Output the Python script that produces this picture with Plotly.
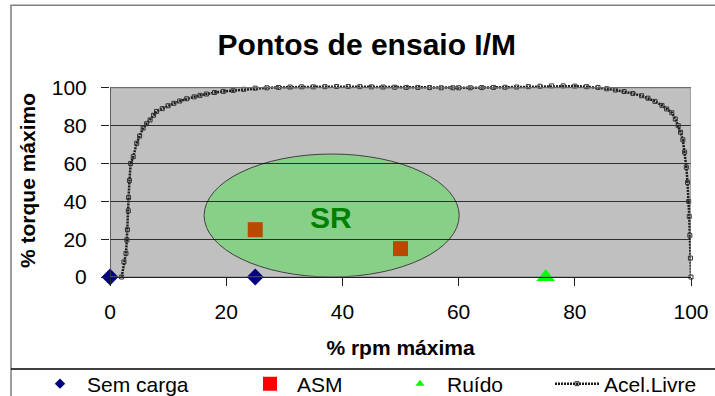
import plotly.graph_objects as go

# --- data -------------------------------------------------------------
sem_carga_x = [0, 25]
sem_carga_y = [0, 0]

asm_x = [25, 50]
asm_y = [25, 15]

ruido_x = [75]
ruido_y = [0]

acel_x = [2.0, 2.4, 2.75, 2.9, 3.0, 3.15, 3.2, 3.35, 3.55, 4.0, 4.6, 5.1, 5.7, 6.3,
          6.9, 7.5, 8.0, 9.0, 10.0, 11.0, 12.0, 13.2, 14.5, 15.5, 16.6, 18.0, 19.5,
          21.2, 23.0, 25.0, 27.0, 29.0, 31.0, 33.0, 35.0, 37.0, 39.0, 41.0, 43.0,
          45.0, 47.0, 49.0, 51.0, 53.0, 55.0, 57.0, 59.0, 60.0, 62.0, 64.0, 66.0,
          68.0, 70.0, 72.0, 74.0, 76.0, 78.0, 80.0, 82.0, 84.0, 85.5, 87.0, 88.5,
          90.0, 91.5, 92.6, 93.8, 95.0, 95.8, 96.7, 97.3, 97.8, 98.2, 98.6, 98.9,
          99.2, 99.4, 99.6, 99.7, 99.8, 99.9, 100.0]
acel_y = [0, 8, 12.5, 19.6, 25, 35, 42, 51, 60, 63.6, 70.7, 74.5, 78.7, 81,
          83, 85.5, 87.5, 89, 90.5, 91.8, 93, 94.2, 95.2, 96, 96.7, 97.5, 98.1,
          98.6, 99.2, 99.8, 100, 100.2, 100.4, 100.5, 100.5, 100.6, 100.7, 100.7, 100.6,
          100.5, 100.4, 100.3, 100.2, 100.2, 100.1, 100.0, 100.0, 100.0, 100.0, 100.1, 100.2,
          100.3, 100.4, 100.6, 100.8, 101.0, 101.0, 100.9, 100.6, 100.2, 99.5, 98.8, 98.0,
          97.0, 95.8, 94.5, 92.8, 90.7, 88.8, 86.8, 83.5, 80.0, 76.5, 72.5, 66,
          58, 50, 40, 32, 22, 10, 0]

# SR region (ellipse bounds in axis units)
sr_x = [16.2, 60.1]
sr_y = [0, 65]
sr_label_pos = (38, 31.5)

x_ticks = [0, 20, 40, 60, 80, 100]
y_ticks = [0, 20, 40, 60, 80, 100]

FONT = "Arial, Liberation Sans, sans-serif"
W, H = 715, 396

fig = go.Figure()

# Acel.Livre curve: chain-like dashed stroke with small open squares
fig.add_trace(go.Scatter(
    x=acel_x, y=acel_y, mode="lines+markers", name="Acel.Livre",
    line=dict(color="#1a1a1a", width=2.5, dash="2px,1px"),
    marker=dict(symbol="square-open", size=4, color="#333333", line=dict(width=1)),
    cliponaxis=False, legend="legend4",
))

# Sem carga
fig.add_trace(go.Scatter(
    x=sem_carga_x, y=sem_carga_y, mode="markers", name="Sem carga",
    marker=dict(symbol="diamond", size=13, color="#000080"),
    cliponaxis=False, showlegend=False,
))
fig.add_trace(go.Scatter(
    x=[None], y=[None], mode="markers", name="Sem carga",
    marker=dict(symbol="diamond", size=8, color="#000080"), legend="legend",
))

# ASM
fig.add_trace(go.Scatter(
    x=asm_x, y=asm_y, mode="markers", name="ASM",
    marker=dict(symbol="square", size=15, color="#B84A00"),
    cliponaxis=False, showlegend=False,
))
fig.add_trace(go.Scatter(
    x=[None], y=[None], mode="markers", name="ASM",
    marker=dict(symbol="square", size=14, color="#FF0000"), legend="legend2",
))

# Ruído
fig.add_trace(go.Scatter(
    x=ruido_x, y=ruido_y, mode="markers", name="Ruído",
    marker=dict(symbol="triangle-up", size=16, color="#00FF00"),
    cliponaxis=False, showlegend=False,
))
fig.add_trace(go.Scatter(
    x=[None], y=[None], mode="markers", name="Ruído",
    marker=dict(symbol="triangle-up", size=8, color="#00FF00"), legend="legend3",
))

# grey plotting area 0..100 x 0..100 (axis range leaves headroom for the curve)
fig.add_shape(type="rect", xref="x", yref="y", x0=0, x1=100, y0=0, y1=100,
              fillcolor="#C0C0C0", line=dict(width=0), layer="below")

# SR ellipse and label
fig.add_shape(type="circle", xref="x", yref="y",
              x0=sr_x[0], x1=sr_x[1], y0=sr_y[0], y1=sr_y[1],
              fillcolor="#88D088", line=dict(color="#404040", width=1), layer="below")
fig.add_annotation(x=sr_label_pos[0], y=sr_label_pos[1], xref="x", yref="y",
                   text="<b>SR</b>", showarrow=False,
                   font=dict(family=FONT, size=30, color="#008000"))

# plot-area frame: grey top/right, dark left axis
fig.add_shape(type="rect", xref="x", yref="y", x0=0, x1=100, y0=0, y1=100,
              line=dict(color="#808080", width=1), layer="above")
fig.add_shape(type="line", xref="x", yref="y", x0=0, x1=0, y0=0, y1=100,
              line=dict(color="#202020", width=1), layer="above")

# outer chart border and legend separator
fig.add_shape(type="rect", xref="paper", yref="paper",
              x0=(11 - 110) / 581, x1=(720 - 110) / 581,
              y0=(277 - 420) / 189, y1=(277 - 11) / 189,
              line=dict(color="#808080", width=1.5))
fig.add_shape(type="line", xref="paper", yref="paper",
              x0=(11 - 110) / 581, x1=(720 - 110) / 581,
              y0=(277 - 367) / 189, y1=(277 - 367) / 189,
              line=dict(color="#000000", width=1.5))

legend_common = dict(orientation="h", xref="container", yref="container",
                     yanchor="middle", y=1 - 384 / H, itemwidth=44,
                     xanchor="left", bgcolor="rgba(0,0,0,0)", borderwidth=0,
                     font=dict(family=FONT, size=21, color="black"))

fig.update_layout(
    width=W, height=H,
    margin=dict(l=110, r=24, t=84, b=119, autoexpand=False),
    paper_bgcolor="white", plot_bgcolor="white",
    title=dict(text="<b>Pontos de ensaio I/M</b>", x=0.513, xanchor="center",
               y=1 - 44 / H, yanchor="middle",
               font=dict(family=FONT, size=30, color="black")),
    font=dict(family=FONT, size=21, color="black"),
    xaxis=dict(range=[0, 100], tickvals=x_ticks, showgrid=False, zeroline=False,
               showline=True, linecolor="#202020", linewidth=1,
               ticks="outside", ticklen=8, tickcolor="#202020", automargin=False,
               tickfont=dict(family=FONT, size=21), ticklabelstandoff=8,
               title=dict(text="<b>% rpm máxima</b>", standoff=18,
                          font=dict(family=FONT, size=21))),
    yaxis=dict(range=[0, 102], tickvals=y_ticks, showgrid=True,
               gridcolor="rgba(0,0,0,0.75)", gridwidth=1, zeroline=False,
               showline=False, automargin=False,
               ticks="outside", ticklen=8, tickcolor="#202020",
               tickfont=dict(family=FONT, size=21), ticklabelstandoff=10,
               title=dict(text="<b>% torque máximo</b>", standoff=10,
                          font=dict(family=FONT, size=21))),
    legend=dict(x=33 / W, **legend_common),
    legend2=dict(x=243 / W, **legend_common),
    legend3=dict(x=393 / W, **legend_common),
    legend4=dict(x=550 / W, **legend_common),
)

fig.write_html("out.html")
